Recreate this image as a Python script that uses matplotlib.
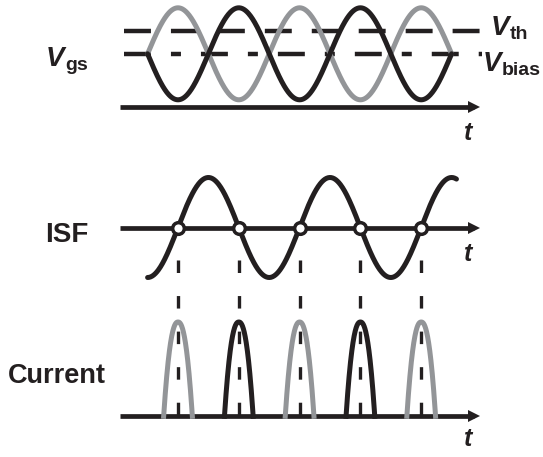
import numpy as np
import matplotlib
matplotlib.use("Agg")
import matplotlib.pyplot as plt

plt.rcParams["font.family"] = ["Liberation Sans", "DejaVu Sans"]
plt.rcParams["lines.scale_dashes"] = False

# ---- waveform values (time in oscillation periods) ----
crossing_times = [0.0, 0.5, 1.0, 1.5, 2.0]          # ISF zero crossings / current peaks
pulse_centers = [0.0, 0.5, 1.0, 1.5, 2.0]
pulse_branch = ["gray", "black", "gray", "black", "gray"]
pulse_peak = [1.0, 1.0, 1.0, 1.0, 1.0]
vgs_amplitude = 1.0
v_bias = 0.0
v_th = 0.5
isf_amplitude = 1.0

vgs_span = (-0.25, 2.25)
isf_span = (-0.25, 2.29)
axis_span = (-0.477, 2.438)
pulse_halfwidth = 0.118
guide_span = (1.657, 0.0)

BLACK = "#231f20"
GRAY = "#939598"
colors = {"black": BLACK, "gray": GRAY}

# ---- figure layout ----
W, H = 543, 457
T0_PX, PERIOD_PX = 178.0, 121.6
fig = plt.figure(figsize=(W / 100, H / 100), dpi=100)


def band_axes(top_px, bottom_px, zero_px, px_per_unit):
    ax = fig.add_axes([0, 1 - bottom_px / H, 1, (bottom_px - top_px) / H])
    ax.set_xlim(-T0_PX / PERIOD_PX, (W - T0_PX) / PERIOD_PX)
    ax.set_ylim(-(bottom_px - zero_px) / px_per_unit, (zero_px - top_px) / px_per_unit)
    ax.axis("off")
    return ax


def time_axis(ax, level):
    ax.plot(axis_span, [level, level], color=BLACK, lw=3.4, solid_capstyle="butt",
            zorder=2, clip_on=False)
    ax.plot([axis_span[1]], [level], marker=">", ms=8.2, mew=0, color=BLACK,
            zorder=2, clip_on=False)


def label(x_px, y_px, s, size, style="normal", **kw):
    return fig.text(x_px / W, 1 - y_px / H, s, fontsize=size, fontweight="bold",
                    fontstyle=style, va="baseline", ha="left", color=BLACK, **kw)


def sub_label(x_px, y_px, main, sub):
    t = label(x_px, y_px, main, 20, "italic")
    fig.canvas.draw()
    ax0 = fig.axes[0]
    ax0.annotate(sub, xy=(1, 0), xycoords=t, xytext=(0.3, -1.3),
                 textcoords="offset points", fontsize=14, fontweight="bold",
                 va="bottom", ha="left", color=BLACK, annotation_clip=False)


# ---- Vgs panel ----
ax1 = band_axes(0, 150, 53.8, 46.0)
tt = np.linspace(*vgs_span, 600)
ax1.plot([axis_span[0] + 0.03, 2.5], [v_th, v_th], color=BLACK, lw=3.2,
         dashes=(19.4, 14.4), zorder=1, clip_on=False)
ax1.plot([axis_span[0] + 0.03, 2.5], [v_bias, v_bias], color=BLACK, lw=3.2,
         dashes=(19.4, 14.4, 7.2, 14.4), zorder=1, clip_on=False)
ax1.plot(tt, v_bias + vgs_amplitude * np.cos(2 * np.pi * tt), color=GRAY, lw=3.6,
         zorder=3, solid_capstyle="round")
ax1.plot(tt, v_bias - vgs_amplitude * np.cos(2 * np.pi * tt), color=BLACK, lw=3.6,
         zorder=4, solid_capstyle="round")
time_axis(ax1, -1.167)

# ---- ISF panel ----
ax2 = band_axes(150, 300, 227.5, 50.0)
time_axis(ax2, 0.0)
ti = np.linspace(*isf_span, 600)
ax2.plot(ti, isf_amplitude * np.sin(2 * np.pi * ti), color=BLACK, lw=3.6,
         zorder=3, solid_capstyle="round")
ax2.plot(crossing_times, np.zeros(len(crossing_times)), "o", ms=8.4, mew=2.5,
         mec=BLACK, mfc="white", zorder=5, clip_on=False)

# ---- Current panel ----
ax3 = band_axes(240, 457, 416.3, 94.3)
for tc in crossing_times:
    ax3.plot([tc, tc], guide_span, color=BLACK, lw=2.4, dashes=(9.0, 16.6), zorder=1)
for tc, br, pk in zip(pulse_centers, pulse_branch, pulse_peak):
    tp = np.linspace(tc - pulse_halfwidth, tc + pulse_halfwidth, 200)
    u = np.abs((tp - tc) / pulse_halfwidth)
    ax3.plot(tp, pk * (1 - u ** 2.3), color=colors[br], lw=3.6, zorder=3,
             solid_joinstyle="round")
time_axis(ax3, 0.0)

# ---- labels ----
sub_label(46, 66, "V", "gs")
sub_label(491, 35, "V", "th")
sub_label(483, 71, "V", "bias")
label(45, 242, "ISF", 20)
label(8, 383, "Current", 19.5)
for yb in (140, 261, 446):
    label(464, yb, "t", 18, "italic")

fig.savefig("out.png", dpi=100)
